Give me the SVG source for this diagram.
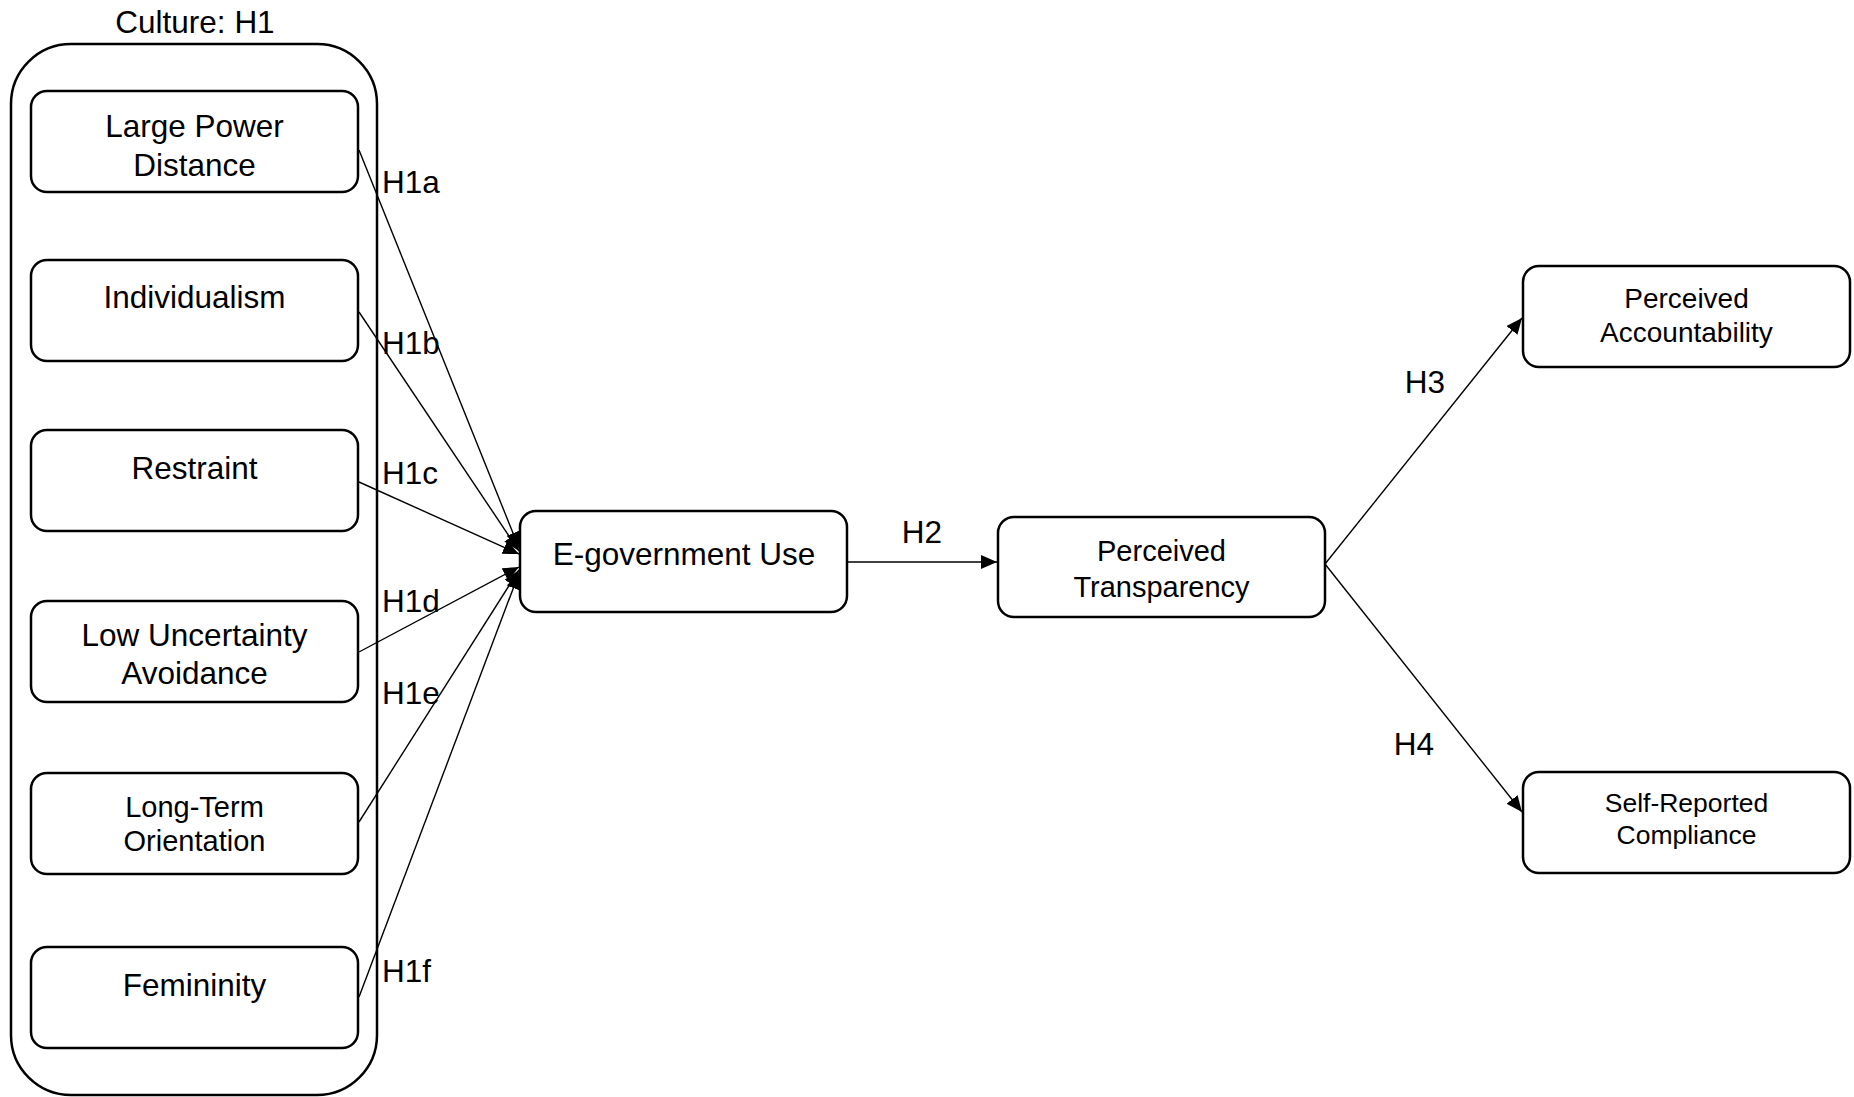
<svg xmlns="http://www.w3.org/2000/svg" width="1854" height="1097" viewBox="0 0 1854 1097">
<defs>
<style>
.box{fill:#fff;stroke:#000;stroke-width:2.5}
.t{font-family:"Liberation Sans",Arial,sans-serif;font-size:31.5px;fill:#000;text-anchor:middle}
.l{font-family:"Liberation Sans",Arial,sans-serif;font-size:31.5px;fill:#000}
.c{stroke:#000;stroke-width:1.4;fill:none;marker-end:url(#arr)}
</style>
<marker id="arr" markerUnits="userSpaceOnUse" markerWidth="18" markerHeight="16" refX="16" refY="7" orient="auto">
<path d="M0,0 L16,7 L0,14 z" fill="#000"/>
</marker>
</defs>
<rect width="1854" height="1097" fill="#fff"/>
<g id="culture">
<rect x="11" y="44" width="366" height="1051" rx="60" ry="60" class="box"/>
<text x="195" y="33" class="t">Culture: H1</text>
</g>
<g id="connectors">
<line x1="359" y1="150" x2="519" y2="548" class="c"/>
<line x1="359" y1="312" x2="519" y2="551" class="c"/>
<line x1="359" y1="482" x2="519" y2="554" class="c"/>
<line x1="359" y1="652" x2="519" y2="567" class="c"/>
<line x1="359" y1="822" x2="519" y2="570" class="c"/>
<line x1="359" y1="997" x2="519" y2="573" class="c"/>
<line x1="848" y1="562" x2="997" y2="562" class="c"/>
<line x1="1325" y1="564" x2="1522" y2="318" class="c"/>
<line x1="1325" y1="564" x2="1522" y2="812" class="c"/>
<text x="382" y="193" class="l">H1a</text>
<text x="382" y="354" class="l">H1b</text>
<text x="382" y="484" class="l">H1c</text>
<text x="382" y="612" class="l">H1d</text>
<text x="382" y="704" class="l">H1e</text>
<text x="382" y="982" class="l">H1f</text>
<text x="922" y="543" class="t">H2</text>
<text x="1425" y="393" class="t">H3</text>
<text x="1414" y="755" class="t">H4</text>
</g>
<g id="lpd">
<rect x="31" y="91" width="327" height="101" rx="16" class="box"/>
<text x="194.5" y="137" class="t">Large Power</text>
<text x="194.5" y="176" class="t">Distance</text>
</g>
<g id="ind">
<rect x="31" y="260" width="327" height="101" rx="16" class="box"/>
<text x="194.5" y="308" class="t">Individualism</text>
</g>
<g id="res">
<rect x="31" y="430" width="327" height="101" rx="16" class="box"/>
<text x="194.5" y="479" class="t">Restraint</text>
</g>
<g id="lua">
<rect x="31" y="601" width="327" height="101" rx="16" class="box"/>
<text x="194.5" y="646" class="t">Low Uncertainty</text>
<text x="194.5" y="684" class="t">Avoidance</text>
</g>
<g id="lto">
<rect x="31" y="773" width="327" height="101" rx="16" class="box"/>
<text x="194.5" y="817" class="t" style="font-size:29px">Long-Term</text>
<text x="194.5" y="851" class="t" style="font-size:29px">Orientation</text>
</g>
<g id="fem">
<rect x="31" y="947" width="327" height="101" rx="16" class="box"/>
<text x="194.5" y="996" class="t">Femininity</text>
</g>
<g id="egov">
<rect x="520" y="511" width="327" height="101" rx="16" class="box"/>
<text x="684" y="565" class="t">E-government Use</text>
</g>
<g id="pt">
<rect x="998" y="517" width="327" height="100" rx="16" class="box"/>
<text x="1161.5" y="561" class="t" style="font-size:29px">Perceived</text>
<text x="1161.5" y="597" class="t" style="font-size:29px">Transparency</text>
</g>
<g id="pa">
<rect x="1523" y="266" width="327" height="101" rx="16" class="box"/>
<text x="1686.5" y="308" class="t" style="font-size:28px">Perceived</text>
<text x="1686.5" y="342" class="t" style="font-size:28px">Accountability</text>
</g>
<g id="src">
<rect x="1523" y="772" width="327" height="101" rx="16" class="box"/>
<text x="1686.5" y="812" class="t" style="font-size:26.5px">Self-Reported</text>
<text x="1686.5" y="844" class="t" style="font-size:26.5px">Compliance</text>
</g>
</svg>
